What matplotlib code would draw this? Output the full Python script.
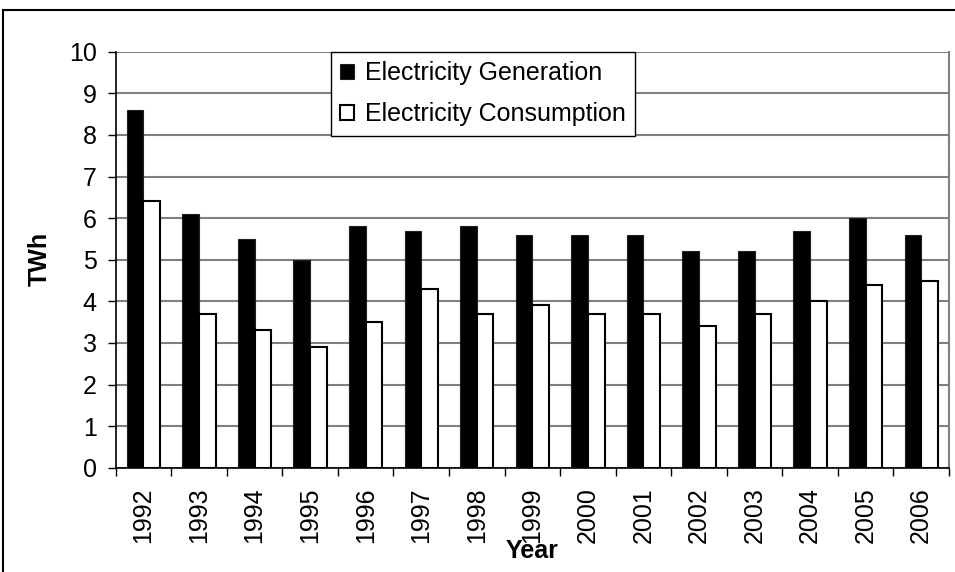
import numpy as np
import matplotlib.pyplot as plt
from matplotlib.patches import Rectangle

plt.rcParams['font.family'] = ['Liberation Sans', 'DejaVu Sans']

years = ['1992', '1993', '1994', '1995', '1996', '1997', '1998', '1999',
         '2000', '2001', '2002', '2003', '2004', '2005', '2006']
generation = [8.6, 6.1, 5.5, 5.0, 5.8, 5.7, 5.8, 5.6, 5.6, 5.6, 5.2, 5.2, 5.7, 6.0, 5.6]
consumption = [6.4, 3.7, 3.3, 2.9, 3.5, 4.3, 3.7, 3.9, 3.7, 3.7, 3.4, 3.7, 4.0, 4.4, 4.5]

W, H = 955, 572
fig = plt.figure(figsize=(W / 100, H / 100), dpi=100)
ax = fig.add_axes([115.7 / W, 1 - 467.7 / H, (949 - 115.7) / W, (467.7 - 51.7) / H])

x = np.arange(len(years))
w = 0.3
ax.bar(x - w / 2, generation, w, color='black', edgecolor='#202020', linewidth=0.8,
       label='Electricity Generation', zorder=3)
ax.bar(x + w / 2, consumption, w, color='white', edgecolor='black', linewidth=1.5,
       label='Electricity Consumption', zorder=3)

ax.set_xlim(-0.5, len(years) - 0.5)
ax.set_ylim(0, 10)
ax.set_yticks(range(0, 11))
ax.yaxis.grid(True, color='#808080', linewidth=1.5, zorder=0)

# ticks sit between categories, labels under each category
ax.set_xticks(np.arange(-0.5, len(years), 1.0))
ax.set_xticklabels([])
ax.set_xticks(x, minor=True)
ax.set_xticklabels(years, minor=True, rotation=90, fontsize=18)
ax.tick_params(axis='x', which='minor', length=0, pad=14)
ax.tick_params(axis='x', which='major', length=5.8, width=1, direction='out', color='black')
ax.tick_params(axis='y', length=5.8, width=1, direction='out', labelsize=18, pad=8)

ax.spines['top'].set_visible(False)
ax.spines['right'].set_color('#808080')
ax.spines['right'].set_linewidth(1.5)
ax.spines['left'].set_linewidth(1.2)
ax.spines['bottom'].set_linewidth(1.2)

fig.text(40 / W, 1 - 259 / H, 'TWh', fontsize=18, fontweight='bold',
         rotation=90, ha='center', va='center')
fig.text(532 / W, 1 - 551 / H, 'Year', fontsize=18, fontweight='bold',
         ha='center', va='center')

leg = ax.legend(loc='upper left', bbox_to_anchor=(0.258, 1.0), fontsize=18,
                frameon=True, fancybox=False, edgecolor='black', framealpha=1,
                handlelength=0.55, handleheight=0.55, handletextpad=0.45,
                borderpad=0.37, labelspacing=0.7, borderaxespad=0)
leg.get_frame().set_linewidth(1.0)

# outer chart frame
fig.patches.append(Rectangle((3 / W, -0.1), 1.1, 1.1 - 10 / H,
                             transform=fig.transFigure, fill=False,
                             edgecolor='black', linewidth=1.5))

fig.savefig('out.png', dpi=100)
